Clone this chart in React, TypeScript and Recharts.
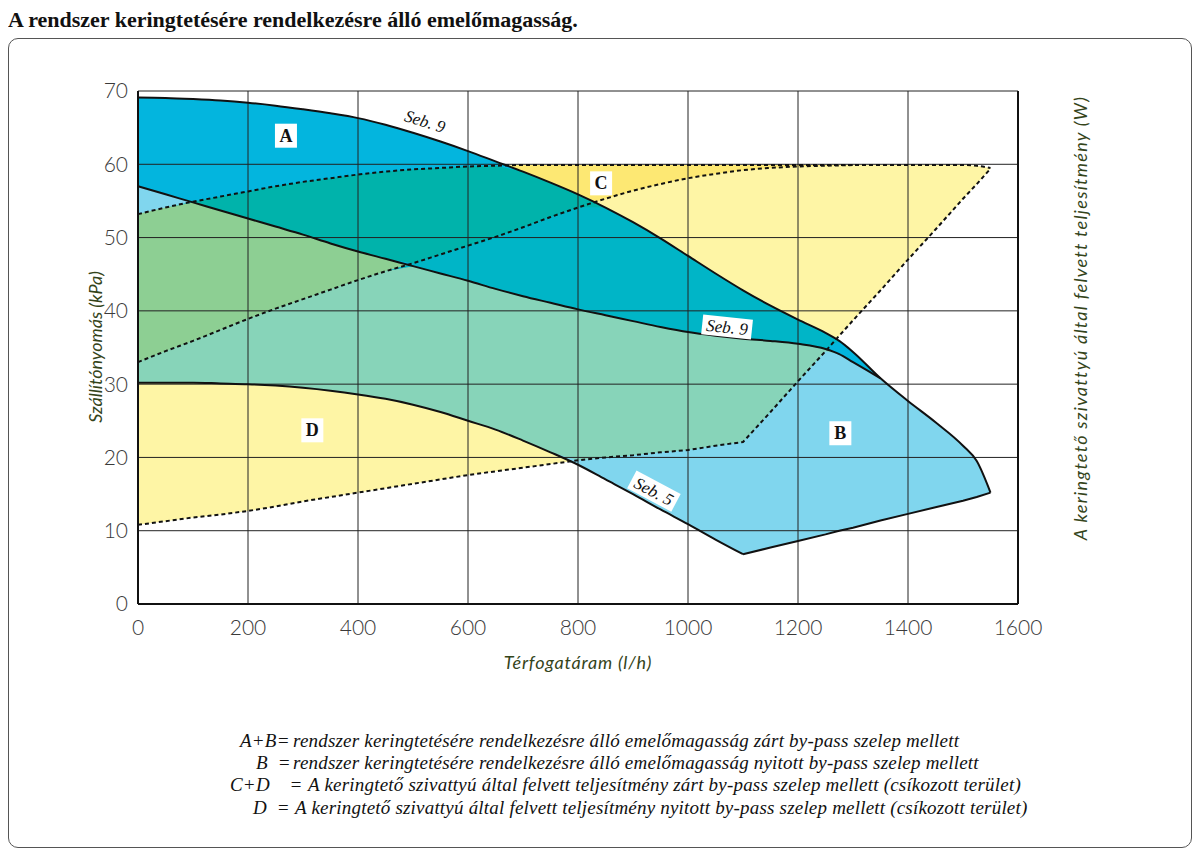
import React from 'react'
import { ComposedChart, Area, Line, XAxis, YAxis, CartesianGrid, ReferenceDot } from 'recharts'

// flow rate (l/h) sample points shared by every curve
const flow = [0, 50, 100, 150, 200, 250, 300, 350, 400, 450, 500, 550, 600, 650, 700, 750, 800, 850, 900, 950, 1000, 1050, 1100, 1150, 1200, 1250, 1275, 1300, 1350, 1400, 1450, 1500, 1525, 1550]

// head curves (kPa)
const seb9Top = [69.1, 69.05, 68.9, 68.7, 68.4, 68.0, 67.5, 66.95, 66.3, 65.4, 64.3, 63.1, 61.8, 60.4, 59.0, 57.5, 55.9, 54.1, 52.1, 49.9, 47.5, 45.1, 42.8, 40.7, 38.8, 37.0, 35.9, 34.4, 30.8, 27.7, 24.8, 21.6, 19.5, 15.2]
const seb9Low = [57.0, 55.9, 54.8, 53.7, 52.6, 51.5, 50.4, 49.2, 48.1, 47.1, 46.1, 45.1, 44.1, 43.0, 42.0, 41.1, 40.2, 39.4, 38.6, 37.8, 37.1, 36.6, 36.2, 35.9, 35.5, 34.8, 34.1, 33.0, 30.8, null, null, null, null, null]
const seb5 = [30.2, 30.2, 30.2, 30.1, 30.0, 29.8, 29.5, 29.1, 28.6, 28.0, 27.2, 26.2, 25.0, 23.8, 22.3, 20.7, 19.0, 17.0, 15.0, 12.9, 10.9, 8.8, 6.8, null, null, null, null, null, null, null, null, null, null, null]
const seb5Edge = [null, null, null, null, null, null, null, null, null, null, null, null, null, null, null, null, null, null, null, null, null, null, 6.8, 7.7, 8.6, 9.5, 10.0, 10.4, 11.4, 12.3, 13.2, 14.1, 14.6, 15.2]

// absorbed power curves (W, same 0-70 scale)
const powerTop = [53.2, 54.1, 54.9, 55.6, 56.3, 57.0, 57.6, 58.1, 58.6, 59.0, 59.3, 59.5, 59.7, 59.8, 59.9, 59.9, 59.9, 59.9, 59.9, 59.9, 59.9, 59.9, 59.9, 59.9, 59.9, 59.9, 59.9, 59.9, 59.9, 59.9, 59.9, 59.9, 59.8, 59.5]
const powerMid = [33.0, 34.5, 35.9, 37.4, 38.9, 40.3, 41.6, 42.9, 44.2, 45.4, 46.5, 47.7, 48.9, 50.1, 51.4, 52.8, 54.1, 55.3, 56.4, 57.3, 58.1, 58.7, 59.2, 59.5, 59.7, 59.8, 59.85, 59.9, null, null, null, null, null, null]
const powerLow = [10.8, 11.3, 11.8, 12.2, 12.7, 13.3, 14.0, 14.6, 15.2, 15.8, 16.4, 17.0, 17.6, 18.1, 18.6, 19.1, 19.6, 20.0, 20.3, 20.7, 21.0, 21.6, 22.1, 26.2, 30.4, 34.5, 36.6, 38.7, 42.8, 47.0, 51.1, 55.3, 57.3, 59.4]

const xTicks = [0, 200, 400, 600, 800, 1000, 1200, 1400, 1600]
const yTicks = [0, 10, 20, 30, 40, 50, 60, 70]

const legendRows = [
  { key: 'A+B=', keyLeft: 232, textLeft: 285, text: 'rendszer keringtetésére rendelkezésre álló emelőmagasság zárt by-pass szelep mellett' },
  { key: 'B  =', keyLeft: 248, textLeft: 285, text: 'rendszer keringtetésére rendelkezésre álló emelőmagasság nyitott by-pass szelep mellett' },
  { key: 'C+D    =', keyLeft: 222, textLeft: 300, text: 'A keringtető szivattyú által felvett teljesítmény zárt by-pass szelep mellett (csíkozott terület)' },
  { key: 'D  =', keyLeft: 245, textLeft: 287, text: 'A keringtető szivattyú által felvett teljesítmény nyitott by-pass szelep mellett (csíkozott terület)' },
]

// overlap band; when empty, collapse onto the upper bound
const band = (lo: number, hi: number) => (lo <= hi ? [lo, hi] : [hi, hi])

const rows = flow.map((f, i) => {
  const t = seb9Top[i]
  const m = seb9Low[i] ?? t
  const s = (seb5[i] ?? seb5Edge[i]) as number
  const p1 = powerTop[i]
  const p2 = powerMid[i] ?? p1
  const p3 = powerLow[i]
  return {
    flow: f,
    seb9Top: t,
    seb9Low: seb9Low[i],
    seb5: seb5[i],
    seb5Edge: seb5Edge[i],
    powerTop: p1,
    powerMid: powerMid[i],
    powerLow: p3,
    yLight: [p3, p1],
    yDark: [p2, p1],
    bPure: [s, m],
    bY1: band(Math.max(s, p3), Math.min(m, p2)),
    bY2: band(Math.max(s, p2), Math.min(m, p1)),
    aPure: [m, t],
    aY1: band(Math.max(m, p3), Math.min(t, p2)),
    aY2: band(Math.max(m, p2), Math.min(t, p1)),
  }
})

const fills: [string, string][] = [
  ['yLight', '#fef5a5'],
  ['yDark', '#fde873'],
  ['bPure', '#80d6ee'],
  ['bY1', '#87d4b9'],
  ['bY2', '#8dcf93'],
  ['aPure', '#03b5de'],
  ['aY1', '#00b5c7'],
  ['aY2', '#00b3ab'],
]

const LetterBox = (text: string) => (props: any) => (
  <g>
    <rect x={props.cx - 11} y={props.cy - 12} width={22} height={24} fill="#fff" />
    <text x={props.cx} y={props.cy + 6} textAnchor="middle" fontFamily="Liberation Serif" fontWeight="bold" fontSize={18} fill="#111">{text}</text>
  </g>
)

const SebLabel = (text: string, angle: number, bg: boolean) => (props: any) => (
  <g transform={`translate(${props.cx},${props.cy}) rotate(${angle})`}>
    {bg && <rect x={-25} y={-10} width={50} height={20} fill="#fff" />}
    <text x={0} y={6} textAnchor="middle" fontFamily="Liberation Serif" fontStyle="italic" fontSize={17} fill="#111">{text}</text>
  </g>
)

const tickStyle = { fontSize: 21, fill: '#3a3a3a', fontFamily: 'Lato', fontWeight: 300 }
const axisTitle: React.CSSProperties = { position: 'absolute', fontFamily: 'Lato', fontStyle: 'italic', fontSize: 18, color: '#34441a', textAlign: 'center', lineHeight: '24px', height: 24, whiteSpace: 'nowrap' }

export default function App() {
  return (
    <div style={{ position: 'relative', width: 1184, height: 840 }}>
      <div style={{ position: 'absolute', left: 0, top: -1, fontFamily: 'Liberation Serif', fontWeight: 'bold', fontSize: 22, lineHeight: '26px', color: '#111' }}>
        A rendszer keringtetésére rendelkezésre álló emelőmagasság.
      </div>
      <div style={{ position: 'absolute', left: 0, top: 30, width: 1184, height: 810, boxSizing: 'border-box', border: '1.5px solid #555', borderRadius: 10 }} />
      <div style={{ position: 'absolute', left: 0, top: 30 }}>
        <ComposedChart width={1184} height={810} data={rows} margin={{ top: 53, right: 114, bottom: 214, left: 70 }}>
          <XAxis dataKey="flow" type="number" domain={[0, 1600]} ticks={xTicks} tick={tickStyle} tickLine={false} tickSize={0} tickMargin={16} height={30} axisLine={{ stroke: '#111', strokeWidth: 2 }} />
          <YAxis yAxisId="left" type="number" domain={[0, 70]} ticks={yTicks} tick={tickStyle} tickLine={false} tickSize={0} tickMargin={10} width={60} axisLine={{ stroke: '#111', strokeWidth: 2 }} />
          <YAxis yAxisId="right" orientation="right" type="number" domain={[0, 70]} ticks={yTicks} tick={{ ...tickStyle, textAnchor: 'start' }} tickLine={false} tickSize={0} tickMargin={24} width={60} axisLine={{ stroke: '#111', strokeWidth: 2 }} />
          {fills.map(([key, color]) => (
            <Area key={key} yAxisId="left" type="linear" dataKey={key} fill={color} fillOpacity={1} stroke="none" dot={false} activeDot={false} isAnimationActive={false} />
          ))}
          <CartesianGrid yAxisId="left" stroke="#222" strokeWidth={1} horizontalValues={yTicks} verticalValues={xTicks} zIndex={300} />
          <Line yAxisId="left" type="monotone" dataKey="seb9Top" stroke="#111" strokeWidth={2} dot={false} activeDot={false} isAnimationActive={false} />
          <Line yAxisId="left" type="monotone" dataKey="seb9Low" stroke="#111" strokeWidth={2} dot={false} activeDot={false} isAnimationActive={false} />
          <Line yAxisId="left" type="monotone" dataKey="seb5" stroke="#111" strokeWidth={2} dot={false} activeDot={false} isAnimationActive={false} />
          <Line yAxisId="left" type="linear" dataKey="seb5Edge" stroke="#111" strokeWidth={2} dot={false} activeDot={false} isAnimationActive={false} />
          <Line yAxisId="left" type="monotone" dataKey="powerTop" stroke="#111" strokeWidth={2} strokeDasharray="4 3" dot={false} activeDot={false} isAnimationActive={false} />
          <Line yAxisId="left" type="monotone" dataKey="powerMid" stroke="#111" strokeWidth={2} strokeDasharray="4 3" dot={false} activeDot={false} isAnimationActive={false} />
          <Line yAxisId="left" type="linear" dataKey="powerLow" stroke="#111" strokeWidth={2} strokeDasharray="4 3" dot={false} activeDot={false} isAnimationActive={false} />
          <ReferenceDot yAxisId="left" x={269} y={63.9} r={0} shape={LetterBox('A')} zIndex={700} />
          <ReferenceDot yAxisId="left" x={1277} y={23.3} r={0} shape={LetterBox('B')} zIndex={700} />
          <ReferenceDot yAxisId="left" x={842} y={57.4} r={0} shape={LetterBox('C')} zIndex={700} />
          <ReferenceDot yAxisId="left" x={317} y={23.7} r={0} shape={LetterBox('D')} zIndex={700} />
          <ReferenceDot yAxisId="left" x={522} y={65.9} r={0} shape={SebLabel('Seb. 9', 17, false)} zIndex={700} />
          <ReferenceDot yAxisId="left" x={1071} y={37.8} r={0} shape={SebLabel('Seb. 9', 6, true)} zIndex={700} />
          <ReferenceDot yAxisId="left" x={938} y={15.4} r={0} shape={SebLabel('Seb. 5', 28, true)} zIndex={700} />
        </ComposedChart>
      </div>
      <div style={{ ...axisTitle, left: 420, top: 642, width: 300, letterSpacing: 0.8 }}>Térfogatáram (l/h)</div>
      <div style={{ ...axisTitle, left: -63, top: 327, width: 300, transform: 'rotate(-90deg)' }}>Szállítónyomás (kPa)</div>
      <div style={{ ...axisTitle, left: 822, top: 298, width: 500, letterSpacing: 1.3, transform: 'rotate(-90deg)' }}>A keringtető szivattyú által felvett teljesítmény (W)</div>
      {legendRows.map((r, i) => (
        <div key={i} style={{ position: 'absolute', top: [722, 744, 766, 789][i], left: 0, height: 22, fontFamily: 'Liberation Serif', fontStyle: 'italic', fontSize: 19, letterSpacing: 0.2, lineHeight: '22px', color: '#111', whiteSpace: 'pre' }}>
          <span style={{ position: 'absolute', left: r.keyLeft }}>{r.key}</span>
          <span style={{ position: 'absolute', left: r.textLeft }}>{r.text}</span>
        </div>
      ))}
    </div>
  )
}
